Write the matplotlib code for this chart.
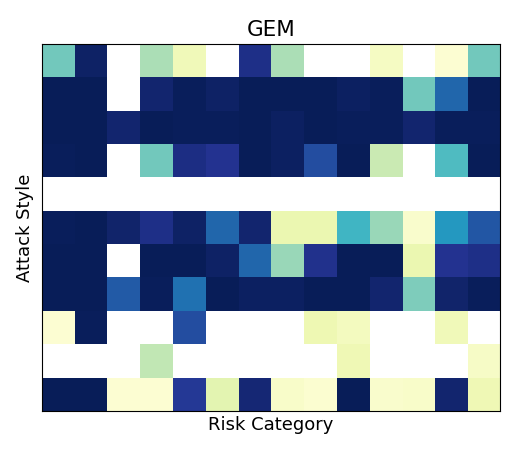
import numpy as np
import matplotlib
matplotlib.use("Agg")
import matplotlib.pyplot as plt

nan = np.nan
title = "GEM"
xlabel = "Risk Category"
ylabel = "Attack Style"

row0 = [0.40, 0.97, nan, 0.30, 0.10, nan, 0.90, 0.30, nan, nan, 0.07, nan, 0.02, 0.40]
row1 = [1.00, 1.00, nan, 0.95, 0.99, 0.97, 1.00, 1.00, 1.00, 0.98, 0.99, 0.40, 0.73, 1.00]
row2 = [1.00, 1.00, 0.95, 1.00, 0.99, 0.99, 1.00, 0.98, 1.00, 0.99, 0.99, 0.95, 0.99, 0.99]
row3 = [0.99, 1.00, nan, 0.40, 0.91, 0.88, 1.00, 0.98, 0.80, 1.00, 0.24, nan, 0.47, 1.00]
row4 = [nan] * 14
row5 = [0.99, 1.00, 0.96, 0.90, 0.97, 0.73, 0.95, 0.13, 0.13, 0.50, 0.33, 0.04, 0.60, 0.77]
row6 = [1.00, 1.00, nan, 1.00, 1.00, 0.97, 0.73, 0.33, 0.89, 1.00, 1.00, 0.13, 0.88, 0.90]
row7 = [1.00, 1.00, 0.76, 0.99, 0.70, 1.00, 0.98, 0.98, 1.00, 1.00, 0.95, 0.375, 0.96, 0.99]
row8 = [0.02, 0.99, nan, nan, 0.80, nan, nan, nan, 0.12, 0.08, nan, nan, 0.10, nan]
row9 = [nan, nan, nan, 0.26, nan, nan, nan, nan, nan, 0.11, nan, nan, nan, 0.06]
row10 = [1.00, 1.00, 0.02, 0.02, 0.86, 0.16, 0.94, 0.05, 0.03, 1.00, 0.04, 0.05, 0.95, 0.11]

data = np.array([row0, row1, row2, row3, row4, row5, row6, row7, row8, row9, row10])

fig = plt.figure(figsize=(5.32, 4.54), dpi=100)
ax = fig.add_axes([0.079, 0.095, 0.861, 0.808])
cmap = matplotlib.colormaps["YlGnBu"].copy()
cmap.set_bad("white")
ax.imshow(np.ma.masked_invalid(data), cmap=cmap, vmin=0, vmax=1,
          aspect="auto", interpolation="nearest")
ax.set_xticks([])
ax.set_yticks([])
ax.set_title(title, fontsize=15.5, pad=6)
ax.set_xlabel(xlabel, fontsize=13, labelpad=4)
ax.set_ylabel(ylabel, fontsize=13, labelpad=6)
fig.savefig("out.png", dpi=100)
